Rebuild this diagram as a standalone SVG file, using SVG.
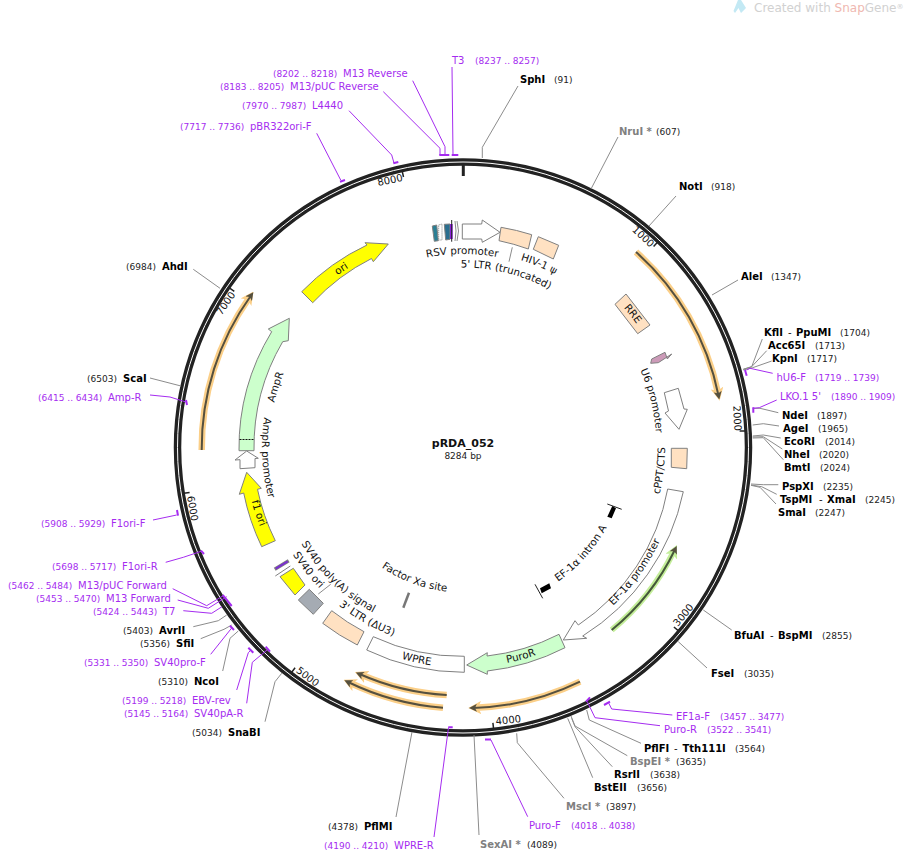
<svg xmlns="http://www.w3.org/2000/svg" width="904" height="853" viewBox="0 0 904 853">
<style>
text{font-family:"DejaVu Sans",sans-serif;font-size:10px;fill:#111}
.n{font-size:9px;fill:#222}
.s{font-weight:bold;fill:#000}
.u{font-weight:bold;fill:#808080}
.p{fill:#a52cf0}
.pn{font-size:9px;fill:#a52cf0}
.g{font-size:10.3px;text-anchor:middle}
.t{text-anchor:middle}
.l{fill:none;stroke:#8c8c8c;stroke-width:1}
.pl{fill:none;stroke:#a52cf0;stroke-width:1}
.cap{fill:none;stroke:#a52cf0;stroke-width:2}
.f{stroke:#808080;stroke-width:1}
.peach{fill:#ffe1c2}.yel{fill:#ffff00}.grn{fill:#ccffcc}.wht{fill:#fff}
.halo{fill:none;stroke:#fbcf88;stroke-width:6.5}
.core{fill:none;stroke:#55503f;stroke-width:2}
.tick{stroke:#222;stroke-width:1.5}
</style>
<defs>
<marker id="ah" markerUnits="userSpaceOnUse" viewBox="0 0 10 10" refX="4" refY="5" markerWidth="13" markerHeight="13" orient="auto"><path d="M0,0L10,5L0,10L2.5,5Z" fill="#fbcf88"/></marker>
<marker id="ag" markerUnits="userSpaceOnUse" viewBox="0 0 10 10" refX="4" refY="5" markerWidth="13" markerHeight="13" orient="auto"><path d="M0,0L10,5L0,10L2.5,5Z" fill="#c4ee9a"/></marker>
<marker id="ad" markerUnits="userSpaceOnUse" viewBox="0 0 10 10" refX="5" refY="5" markerWidth="8" markerHeight="8" orient="auto"><path d="M0,0L10,5L0,10L2.5,5Z" fill="#55503f"/></marker>
<path id="c213" d="M463,234.5A213,213 0 1 1 463,660.5A213,213 0 1 1 463,234.5A213,213 0 1 1 463,660.5A213,213 0 1 1 463,234.5"/>
<path id="c194" d="M463,253.5A194,194 0 1 1 463,641.5A194,194 0 1 1 463,253.5A194,194 0 1 1 463,641.5A194,194 0 1 1 463,253.5"/>
<path id="c192" d="M463,254A193.5,193.5 0 1 1 463,641A193.5,193.5 0 1 1 463,254A193.5,193.5 0 1 1 463,641A193.5,193.5 0 1 1 463,254"/>
<path id="c176" d="M463,267.5A180,180 0 1 1 463,627.5A180,180 0 1 1 463,267.5A180,180 0 1 1 463,627.5A180,180 0 1 1 463,267.5"/>
<path id="c196" d="M463,251.5A196,196 0 1 1 463,643.5A196,196 0 1 1 463,251.5A196,196 0 1 1 463,643.5A196,196 0 1 1 463,251.5"/>
<path id="a164" d="M463,283A164.5,164.5 0 1 0 463,612A164.5,164.5 0 1 0 463,283A164.5,164.5 0 1 0 463,612A164.5,164.5 0 1 0 463,283"/>
<path id="a202" d="M463,245.5A202,202 0 1 0 463,649.5A202,202 0 1 0 463,245.5A202,202 0 1 0 463,649.5A202,202 0 1 0 463,245.5"/>
<path id="a218" d="M463,229.5A218,218 0 1 0 463,665.5A218,218 0 1 0 463,229.5A218,218 0 1 0 463,665.5A218,218 0 1 0 463,229.5"/>
<path id="a220" d="M463,227.5A220,220 0 1 0 463,667.5A220,220 0 1 0 463,227.5A220,220 0 1 0 463,667.5A220,220 0 1 0 463,227.5"/>
<path id="a201" d="M463,246.5A201,201 0 1 0 463,648.5A201,201 0 1 0 463,246.5A201,201 0 1 0 463,648.5A201,201 0 1 0 463,246.5"/>
<path id="a185" d="M463,259.5A188,188 0 1 0 463,635.5A188,188 0 1 0 463,259.5A188,188 0 1 0 463,635.5A188,188 0 1 0 463,259.5"/>
<path id="a145" d="M463,302.5A145,145 0 1 0 463,592.5A145,145 0 1 0 463,302.5A145,145 0 1 0 463,592.5A145,145 0 1 0 463,302.5"/>
</defs>
<g id="watermark" opacity="0.95">
<path d="M738,0L741,0L746,8L741,13L738.5,8L735,13L733.5,11Z" fill="#c0e8f4"/>
<text x="754" y="12" style="font-size:12px;fill:#cfcfcf">Created with <tspan fill="#efb5ad">Snap</tspan>Gene<tspan style="font-size:7px" dy="-3">®</tspan></text>
</g>
<g id="plasmid-ring">
<circle cx="463" cy="447.5" r="285.5" fill="none" stroke="#222" stroke-width="7.5"/>
<circle cx="463" cy="447.5" r="285.5" fill="none" stroke="#fff" stroke-width="1"/>
<path class="tick" style="stroke-width:3" d="M463.3,164V176"/>
<path class="tick" d="M657.7,242L653.6,246.4M745.6,431H739.6M678.5,630.9L673.9,627M493.6,728.8L492.9,722.9M291.5,672.5L295.1,667.7M183.7,493.3L189.6,492.4M229.3,287.9L234.3,291.3M402.2,171.1L403.5,177"/>
<text class="t" y="3.5" transform="translate(643.3,236.7) rotate(43)">1000</text>
<text class="t" y="3.5" transform="translate(737.3,418.3) rotate(87)">2000</text>
<text class="t" y="3.5" transform="translate(683.3,615) rotate(-50)">3000</text>
<text class="t" y="3.5" transform="translate(508.3,720) rotate(-6)">4000</text>
<text class="t" y="3.5" transform="translate(307.7,676.7) rotate(37)">5000</text>
<text class="t" y="3.5" transform="translate(192.7,508.3) rotate(80)">6000</text>
<text class="t" y="3.5" transform="translate(225.7,303.3) rotate(-56)">7000</text>
<text class="t" y="3.5" transform="translate(390,180) rotate(-12)">8000</text>
</g>
<g id="connectors">
<path class="l" d="M482.3,158V147.3L518,86M591,189L618,137M649,226L676,196M712,295L738,280M762.3,339L751.7,366.7L743.3,369.3M766.7,350.7L751.7,366.7L743.3,369.3M771.7,361L752.7,367.7L743.3,370M778.3,412.7L760,408.3L752.7,408.3M779,426L763.3,423.7L752.7,425M780.7,438L763.3,435L752.7,436M782.3,449L763.3,436.7L752.7,437M783.3,459.7L763.3,437.7L752.7,438M778.3,484.7H763.3L751,484M776.7,494.3L761.7,486.7L751,485M776,504L760,487.3L751,485.3M731.7,630L703.3,610M707,668L678.3,641.7M641,743.3L589.3,720L586.7,710M627.3,755.7L575,726L571,716M612.3,766.7L575,726.7L571.7,718.3M592.7,777.7L567.7,718.3M564,798.3L517.3,742.7L516.7,733.3M479,835L474,735M396,817L412,732M265,721.7L275,681.7L281.7,673.3M222.7,671L230,638.3L238.3,631M200.7,638.7L224,629.3L231.7,625M193.3,626.7L218.3,620.7L226.7,615M150,378L181,386M193.3,269.3L220,288.3"/>
<path class="pl" d="M452,67L453,155M412.7,80.7L445,146.7V155M383.3,91.7L440,148.3V155M349,110.7L391.7,155L394,163M316.7,133.3L340.7,180M150,395L170,397L186,402M153,520L176.7,515M165.7,562.3L183.3,557.3L202,551M172.7,588.7L206.7,605.7L223.3,595.7M177.7,600L208.3,608.3L226.7,596.7M183.3,610.7L211.7,613.3L222,606.7M210.7,654.3L231.7,628M236.7,690L248.3,652.7L251,650M246.7,703.3L252.3,662.3L267,650M434,837L448.5,727.5M527.7,816.7L491,740M660,725.7L595,717.7L587.3,701.7M672.3,715L611.7,709L608.3,702.3M772.7,373.3L750,368.3L746.7,370M776.7,400L759.3,407.7L753,408.3"/>
<path class="cap" d="M451.7,155H458.3M439.3,155H449.3M393.3,163.3L398.3,162M340,181.7L345,180M186,400L187,405M177,510L178,515.7M201,550.7L204,554M222.7,595L231.7,606M230,625.7L234,630M248.3,647.7L253.3,652.7M265.7,646.7L270,651.7M448.3,727.3H452.7M485,739.5H491M586,701.7L590,697.3M604,705L610,701.7M745,370L746.7,375.7M753.3,407.3V412.7"/>
</g>
<g id="primer-arcs">
<path class="halo" marker-end="url(#ah)" d="M636,252A261,261 0 0 1 718,393"/><path class="core" marker-end="url(#ad)" d="M636,252A261,261 0 0 1 718.5,395.5"/>
<path class="halo" marker-end="url(#ah)" d="M580,681.7A261,261 0 0 1 476,707.8"/><path class="core" marker-end="url(#ad)" d="M580,681.7A261,261 0 0 1 473,708"/>
<path class="halo" marker-end="url(#ah)" d="M446.7,695A248,248 0 0 1 362,675"/><path class="core" marker-end="url(#ad)" d="M446.7,695A248,248 0 0 1 359.5,674"/>
<path class="halo" marker-end="url(#ah)" d="M443,707.7A261,261 0 0 1 350.5,683"/><path class="core" marker-end="url(#ad)" d="M443,707.7A261,261 0 0 1 348,682"/>
<path class="halo" marker-end="url(#ah)" d="M201.7,450A261,261 0 0 1 249,298"/><path class="core" marker-end="url(#ad)" d="M201.7,450A261,261 0 0 1 251,295.5"/>
<path fill="none" stroke="#c4ee9a" stroke-width="6" marker-end="url(#ag)" d="M611.7,630A235,235 0 0 0 673.5,552"/><path fill="none" stroke="#45583a" stroke-width="2" marker-end="url(#ad)" d="M611.7,630A235,235 0 0 0 675,549.5"/>
</g>
<g id="ori"><path class="f yel" d="M301.7,291.7A224,224 0 0 1 367,245L365,242.7L388.3,244L373.3,261.7L371.5,258.5A209,209 0 0 0 312.7,302.7Z"/><text class="g"><textPath href="#c213" startOffset="95.24%">ori</textPath></text></g>
<g id="AmpR"><path class="f grn" d="M239,450.7A224,224 0 0 1 271.7,331.7L268.3,329L289.3,318.3L288.3,340.7L282.7,341.7A209,209 0 0 0 254,450.7Z"/><path stroke="#111" stroke-dasharray="2 1" d="M239.5,439.5H253.5"/><text class="g"><textPath href="#c194" startOffset="89.99%">AmpR</textPath></text></g>
<g id="AmpR-promoter"><path class="f wht" d="M246.7,451L258.3,458.3L255,458.5L255,467.7L240,468.7L240,459.7L235,460Z"/><text class="g"><textPath href="#a201" startOffset="62.92%">AmpR promoter</textPath></text></g>
<g id="f1-ori"><path class="f yel" d="M246.7,472.3L261.3,488.3L257.5,489.3A209,209 0 0 0 275.3,540.7L261.7,546.7A224,224 0 0 1 243.7,493L239.3,494.3Z"/><text class="g"><textPath href="#a218" startOffset="64.97%">f1 ori</textPath></text></g>
<g id="SV40-ori"><path class="f yel" d="M280,576.7L293.3,568.3L305,585L295,595Z"/><text class="g"><textPath href="#a201" startOffset="67.83%">SV40 ori</textPath></text></g>
<g id="SV40-polyA"><path class="f" fill="#a5abb3" d="M298.3,600L309.3,589.3L323.3,603.3L313.3,614.3Z"/><path class="l" d="M318.3,594L330.7,584.3"/><text class="g"><textPath href="#a185" startOffset="68.9%">SV40 poly(A) signal</textPath></text></g>
<g id="SV40-promoter-small"><path stroke="#808080" fill="none" d="M275.3,576L290.3,566"/><path stroke="#808080" stroke-width="3.5" d="M274.7,569.3L288.7,560.7"/><path stroke="#7a2fd0" stroke-width="2" d="M275.7,568.7L287.7,561.3"/></g>
<g id="LTR3"><path class="f peach" d="M322.7,623.3L331.7,610.7A209,209 0 0 0 364,631.7L357.3,645A224,224 0 0 1 322.7,623.3Z"/><text class="g"><textPath href="#a201" startOffset="70.94%">3' LTR (ΔU3)</textPath></text></g>
<g id="WPRE"><path class="f wht" d="M366.7,650L373.3,636.7A209,209 0 0 0 464.3,656.3V672.3A224,224 0 0 1 366.7,650Z"/><text class="g"><textPath href="#a220" startOffset="73.29%">WPRE</textPath></text></g>
<g id="PuroR"><path class="f grn" d="M466.7,665L487.3,652.7L487,656A209,209 0 0 0 559,634.3L565,647.7A224,224 0 0 1 487.3,671L487.3,674.3Z"/><text class="g"><textPath href="#a220" startOffset="77.15%">PuroR</textPath></text></g>
<g id="EF1a-promoter"><path class="f wht" d="M667.7,489A209,209 0 0 1 578.3,625L575,620.7L563.3,640L586.7,638.3L582.7,636A224,224 0 0 0 683.3,491.7Z"/><text class="g"><textPath href="#a218" startOffset="82.51%">EF-1α promoter</textPath></text></g>
<g id="EF1a-intron"><path stroke="#222" d="M607.3,504L621.7,509.3M535,584.3L542.7,598.3"/><path fill="#000" d="M607.3,516.7L611.7,518.3L616,508.3L612.3,506ZM540,588.3L549.3,583.3L551,588.3L541.7,593.3Z"/><text class="g"><textPath href="#a164" startOffset="81.68%">EF-1α intron A</textPath></text></g>
<g id="cPPT"><path class="f peach" d="M671.3,448.3H687.3L686.7,468.7L671.3,467.3Z"/><text class="g"><textPath href="#a202" startOffset="86.57%">cPPT/CTS</textPath></text></g>
<g id="U6-promoter"><path class="f wht" d="M664.3,392.7L678.3,388.3L684,409L687.3,409.3L679,429.3L665,413L668.5,411Z"/><text class="g"><textPath href="#c192" startOffset="60.56%">U6 promoter</textPath></text></g>
<g id="hU6-small"><path class="f" fill="#cc9ab8" d="M650.7,363.3L651.7,359L665,352.3L667.3,359L671.7,354L658.3,362.7Z"/></g>
<g id="RRE"><path class="f peach" d="M615,304.3L626,294L650,325L637.7,333.7Z"/><text class="g"><textPath href="#c213" startOffset="57.19%">RRE</textPath></text></g>
<g id="LTR5"><path class="f peach" d="M501,227.3A223,223 0 0 1 531.7,234.7L528.3,249A209,209 0 0 0 499,240.7Z"/><path class="l" d="M512.3,247.3L509,261.7"/><text class="g"><textPath href="#c176" startOffset="51.94%">5' LTR (truncated)</textPath></text></g>
<g id="HIV-psi"><path class="f peach" d="M538.3,236.7L558.7,245.3L553.3,259L533.3,249.3Z"/><text class="g"><textPath href="#c196" startOffset="53.13%">HIV-1 ψ</textPath></text></g>
<g id="RSV-promoter"><path class="f wht" d="M462.3,224H481.7L482.3,220L500,232.3L482.3,242.3L481.7,239H462.3Z"/><text class="g"><textPath href="#c192" startOffset="49.97%">RSV promoter</textPath></text></g>
<g id="small-features"><path class="f" fill="#2a7f95" d="M432.3,226L436.7,225L438.3,240.7L434.3,241.3Z"/><path class="f wht" stroke-dasharray="1 1" d="M438.7,225L442,224V240H438.7Z"/><path class="f" fill="#2a6f8f" d="M444.3,224.3L450,224V239.3L445.7,240Z"/><path fill="#8a1ed8" d="M450,224H452.7V239H450Z"/><path stroke="#222" d="M451.7,220V241.7"/><path class="l" d="M455,221Q457,231 455,241M457,221Q460,231 457,241"/></g>
<g id="Factor-Xa"><path stroke="#777" stroke-width="2.5" d="M409,592.7L403.3,607.7"/><text class="g"><textPath href="#a145" startOffset="72.18%">Factor Xa site</textPath></text></g>
<g id="center"><text x="463" y="447" text-anchor="middle" style="font-size:11px;font-weight:bold">pRDA_052</text><text x="463" y="459" text-anchor="middle" class="n">8284 bp</text></g>
<g id="site-labels">
<text class="s" x="520" y="83">SphI</text><text class="n" x="554" y="83">(91)</text>
<text class="u" x="619" y="135">NruI *</text><text class="n" x="656" y="135">(607)</text>
<text class="s" x="679" y="190">NotI</text><text class="n" x="711" y="190">(918)</text>
<text class="s" x="741" y="280">AleI</text><text class="n" x="771" y="280">(1347)</text>
<text class="s" x="764" y="336">KflI</text><text x="788" y="336">-</text><text class="s" x="796" y="336">PpuMI</text><text class="n" x="840" y="336">(1704)</text>
<text class="s" x="768" y="349">Acc65I</text><text class="n" x="815" y="349">(1713)</text>
<text class="s" x="772" y="362">KpnI</text><text class="n" x="807" y="362">(1717)</text>
<text class="s" x="782" y="419">NdeI</text><text class="n" x="817" y="419">(1897)</text>
<text class="s" x="783" y="432">AgeI</text><text class="n" x="818" y="432">(1965)</text>
<text class="s" x="784" y="445">EcoRI</text><text class="n" x="825" y="445">(2014)</text>
<text class="s" x="784" y="458">NheI</text><text class="n" x="819" y="458">(2020)</text>
<text class="s" x="784" y="471">BmtI</text><text class="n" x="820" y="471">(2024)</text>
<text class="s" x="782" y="490">PspXI</text><text class="n" x="823" y="490">(2235)</text>
<text class="s" x="780" y="503">TspMI</text><text x="819" y="503">-</text><text class="s" x="827" y="503">XmaI</text><text class="n" x="865" y="503">(2245)</text>
<text class="s" x="778" y="516">SmaI</text><text class="n" x="815" y="516">(2247)</text>
<text class="s" x="734" y="639">BfuAI</text><text x="770" y="639">-</text><text class="s" x="778" y="639">BspMI</text><text class="n" x="822" y="639">(2855)</text>
<text class="s" x="711" y="677">FseI</text><text class="n" x="744" y="677">(3035)</text>
<text class="s" x="644" y="752">PflFI</text><text x="674" y="752">-</text><text class="s" x="682.5" y="752">Tth111I</text><text class="n" x="735" y="752">(3564)</text>
<text class="u" x="630" y="765">BspEI *</text><text class="n" x="676" y="765">(3635)</text>
<text class="s" x="614" y="778">RsrII</text><text class="n" x="650" y="778">(3638)</text>
<text class="s" x="594" y="791">BstEII</text><text class="n" x="637" y="791">(3656)</text>
<text class="u" x="566" y="810">MscI *</text><text class="n" x="606" y="810">(3897)</text>
<text class="u" x="480" y="848">SexAI *</text><text class="n" x="527" y="848">(4089)</text>
<text class="s" x="364" y="830">PflMI</text><text class="n" x="328" y="830">(4378)</text>
<text class="s" x="228" y="736">SnaBI</text><text class="n" x="192" y="736">(5034)</text>
<text class="s" x="194" y="685">NcoI</text><text class="n" x="158" y="685">(5310)</text>
<text class="s" x="176" y="647">SfiI</text><text class="n" x="140" y="647">(5356)</text>
<text class="s" x="159" y="634">AvrII</text><text class="n" x="123" y="634">(5403)</text>
<text class="s" x="123" y="382">ScaI</text><text class="n" x="87" y="382">(6503)</text>
<text class="s" x="162" y="270">AhdI</text><text class="n" x="126" y="270">(6984)</text>
</g>
<g id="primer-labels">
<text class="p" x="776.5" y="381">hU6-F</text><text class="pn" x="815" y="381">(1719 .. 1739)</text>
<text class="p" x="780" y="400">LKO.1 5'</text><text class="pn" x="831" y="400">(1890 .. 1909)</text>
<text class="p" x="676" y="720">EF1a-F</text><text class="pn" x="720" y="720">(3457 .. 3477)</text>
<text class="p" x="664" y="733">Puro-R</text><text class="pn" x="707" y="733">(3522 .. 3541)</text>
<text class="p" x="529" y="829">Puro-F</text><text class="pn" x="571" y="829">(4018 .. 4038)</text>
<text class="p" x="394" y="849">WPRE-R</text><text class="pn" x="324" y="849">(4190 .. 4210)</text>
<text class="p" x="194" y="717">SV40pA-R</text><text class="pn" x="124" y="717">(5145 .. 5164)</text>
<text class="p" x="192" y="704">EBV-rev</text><text class="pn" x="122" y="704">(5199 .. 5218)</text>
<text class="p" x="154" y="666">SV40pro-F</text><text class="pn" x="84" y="666">(5331 .. 5350)</text>
<text class="p" x="163" y="615">T7</text><text class="pn" x="93" y="615">(5424 .. 5443)</text>
<text class="p" x="106" y="602">M13 Forward</text><text class="pn" x="36" y="602">(5453 .. 5470)</text>
<text class="p" x="78" y="589">M13/pUC Forward</text><text class="pn" x="8" y="589">(5462 .. 5484)</text>
<text class="p" x="122" y="570">F1ori-R</text><text class="pn" x="52" y="570">(5698 .. 5717)</text>
<text class="p" x="111" y="527">F1ori-F</text><text class="pn" x="41" y="527">(5908 .. 5929)</text>
<text class="p" x="108" y="401">Amp-R</text><text class="pn" x="38" y="401">(6415 .. 6434)</text>
<text class="p" x="250" y="130">pBR322ori-F</text><text class="pn" x="180" y="130">(7717 .. 7736)</text>
<text class="p" x="312" y="109">L4440</text><text class="pn" x="242" y="109">(7970 .. 7987)</text>
<text class="p" x="290" y="90">M13/pUC Reverse</text><text class="pn" x="220" y="90">(8183 .. 8205)</text>
<text class="p" x="343" y="77">M13 Reverse</text><text class="pn" x="273" y="77">(8202 .. 8218)</text>
<text class="p" x="452" y="64">T3</text><text class="pn" x="475" y="64">(8237 .. 8257)</text>
</g>
</svg>
